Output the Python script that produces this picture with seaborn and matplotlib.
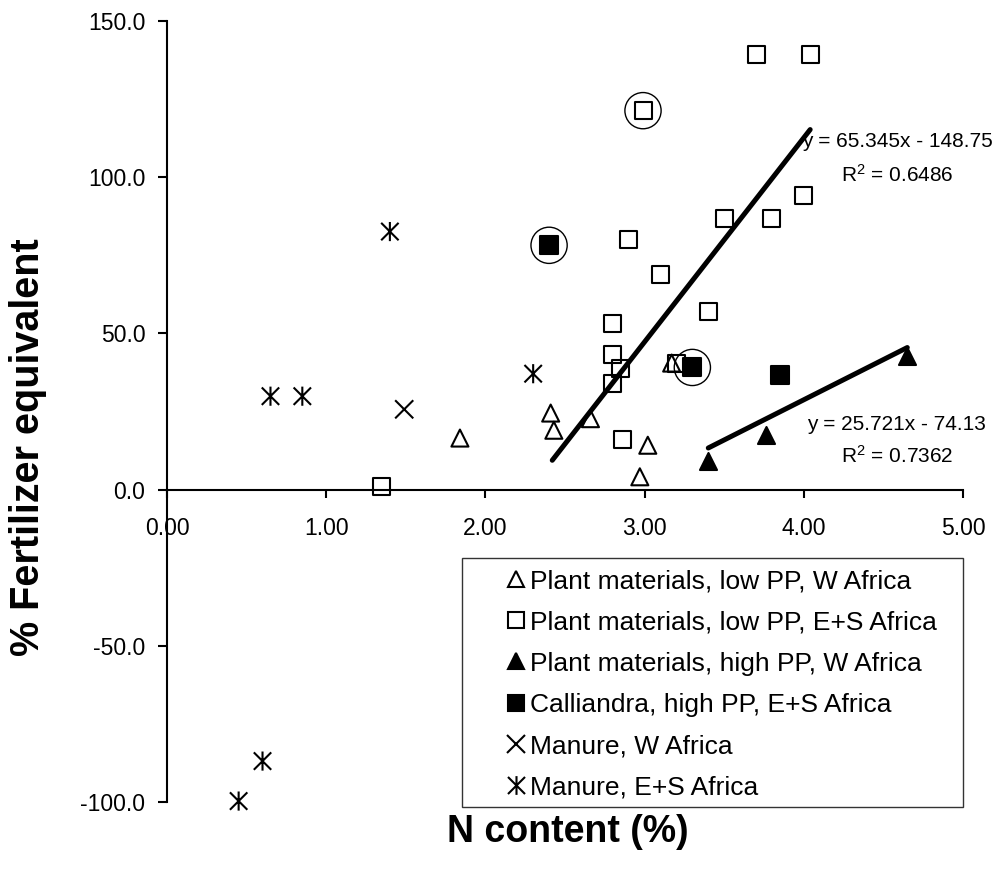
import numpy as np
import pandas as pd
import matplotlib
matplotlib.use("Agg")
import matplotlib.pyplot as plt
import seaborn as sns
from matplotlib.path import Path
from matplotlib.lines import Line2D
from matplotlib.patches import Rectangle

# ---------------- data ----------------
tri_open_x = [1.84, 2.41, 2.43, 2.66, 2.97, 3.02, 3.17]
tri_open_y = [16.5, 24.5, 19.0, 22.7, 4.1, 14.2, 40.5]

sq_open_x = [1.35, 2.80, 2.80, 2.85, 2.80, 2.86, 2.90, 2.99, 3.10, 3.20,
             3.40, 3.50, 3.70, 3.80, 4.00, 4.04]
sq_open_y = [1.0, 53.1, 43.2, 38.9, 34.1, 16.0, 80.0, 121.3, 69.0, 40.5,
             57.0, 86.9, 139.3, 86.9, 94.0, 139.3]

tri_fill_x = [3.40, 3.76, 4.65]
tri_fill_y = [9.1, 17.6, 42.9]

calli_x = [2.40, 3.30, 3.85]
calli_y = [78.2, 39.1, 36.8]

manure_w_x = [1.49]
manure_w_y = [25.7]

manure_es_x = [0.45, 0.60, 0.65, 0.85, 1.40, 2.30]
manure_es_y = [-99.7, -86.9, 29.9, 29.9, 82.6, 37.1]

circled_x = [2.99, 2.40, 3.30]
circled_y = [121.3, 78.2, 39.1]

# trend lines: slope, intercept, x-range
trend_slopes = [65.345, 25.721]
trend_intercepts = [-148.75, -74.13]
trend_xmin = [2.42, 3.40]
trend_xmax = [4.04, 4.65]
trend_eq_labels = ["y = 65.345x - 148.75", "y = 25.721x - 74.13"]
trend_r2_labels = [r"R$^2$ = 0.6486", r"R$^2$ = 0.7362"]
trend_label_x = [4.59, 4.585]
trend_label_y = [111.4, 20.8]
trend_r2_y = [100.8, 10.7]

legend_labels = ["Plant materials, low PP, W Africa",
                 "Plant materials, low PP, E+S Africa",
                 "Plant materials, high PP, W Africa",
                 "Calliandra, high PP, E+S Africa",
                 "Manure, W Africa",
                 "Manure, E+S Africa"]

xticks = [0, 1, 2, 3, 4, 5]
xtick_labels = ["0.00", "1.00", "2.00", "3.00", "4.00", "5.00"]
yticks = [-100, -50, 0, 50, 100, 150]
ytick_labels = ["-100.0", "-50.0", "0.0", "50.0", "100.0", "150.0"]

# ---------------- style ----------------
sns.set_style("white")
plt.rcParams['font.family'] = ['Liberation Sans', 'DejaVu Sans']
plt.rcParams['axes.unicode_minus'] = False
plt.rcParams['mathtext.fontset'] = 'custom'
plt.rcParams['mathtext.rm'] = 'Liberation Sans'
plt.rcParams['mathtext.it'] = 'Liberation Sans:italic'
plt.rcParams['text.color'] = 'black'
plt.rcParams['axes.labelcolor'] = 'black'
plt.rcParams['xtick.color'] = 'black'
plt.rcParams['ytick.color'] = 'black'

asterisk = Path([(-0.5, -0.5), (0.5, 0.5), (-0.5, 0.5), (0.5, -0.5), (0, -0.55), (0, 0.55)],
                [Path.MOVETO, Path.LINETO, Path.MOVETO, Path.LINETO, Path.MOVETO, Path.LINETO])

fig = plt.figure(figsize=(10.02, 8.73), dpi=100)
ax = fig.add_axes([167 / 1002, 1 - 802 / 873, 796 / 1002, 781 / 873])

groups = [
    (tri_open_x, tri_open_y, '^', True, 150, 1.5),
    (sq_open_x, sq_open_y, 's', True, 150, 1.5),
    (tri_fill_x, tri_fill_y, '^', False, 150, 1.5),
    (calli_x, calli_y, 's', False, 150, 1.5),
    (manure_w_x, manure_w_y, 'x', True, 170, 1.5),
    (manure_es_x, manure_es_y, asterisk, True, 190, 1.5),
]

# circles around highlighted points
sns.scatterplot(x=circled_x, y=circled_y, marker='o', s=680, color='black',
                edgecolor='black', linewidth=1.0, ax=ax, legend=False, zorder=2)
ax.collections[-1].set_facecolor('none')
ax.collections[-1].set_clip_on(False)

for gx, gy, m, hollow, s, lw in groups:
    sns.scatterplot(x=gx, y=gy, marker=m, s=s, color='black', edgecolor='black',
                    linewidth=lw, ax=ax, legend=False, zorder=3)
    coll = ax.collections[-1]
    if hollow:
        coll.set_facecolor('none')
    coll.set_edgecolor('black')
    coll.set_linewidth(lw)
    coll.set_clip_on(False)

# trend lines
for sl, ic, x0, x1 in zip(trend_slopes, trend_intercepts, trend_xmin, trend_xmax):
    xs = np.array([x0, x1])
    sns.lineplot(x=xs, y=sl * xs + ic, color='black', linewidth=3.6, ax=ax,
                 solid_capstyle='round', zorder=4)

for eq, r2, tx, ty, ry in zip(trend_eq_labels, trend_r2_labels, trend_label_x,
                              trend_label_y, trend_r2_y):
    ax.text(tx, ty, eq, ha='center', va='center', fontsize=15, color='black', zorder=5)
    ax.text(tx, ry, r2, ha='center', va='center', fontsize=15, color='black', zorder=5)

# axes
ax.set_xlim(0, 5)
ax.set_ylim(-100, 150)
ax.spines['top'].set_visible(False)
ax.spines['right'].set_visible(False)
ax.spines['bottom'].set_position(('data', 0))
for sp in ['left', 'bottom']:
    ax.spines[sp].set_linewidth(1.5)
    ax.spines[sp].set_color('black')
ax.set_xticks(xticks)
ax.set_xticklabels(xtick_labels)
ax.set_yticks(yticks)
ax.set_yticklabels(ytick_labels)
ax.tick_params(axis='x', direction='out', length=6, width=1.5, pad=14,
               labelsize=16.5, bottom=True, colors='black')
ax.tick_params(axis='y', direction='out', length=6.5, width=1.5, pad=9,
               labelsize=16.5, left=True, colors='black')

ax.set_xlabel('N content (%)', fontsize=27, fontweight='bold', color='black')
ax.set_ylabel('% Fertilizer equivalent', fontsize=28.5, fontweight='bold', color='black')
ax.xaxis.label.set_va('center')
ax.yaxis.label.set_va('center')
ax.xaxis.set_label_coords((568 - 167) / 796, (802 - 832) / 781)
ax.yaxis.set_label_coords((28 - 167) / 796, (802 - 447) / 781)

# legend
handles = [
    Line2D([], [], marker='^', linestyle='none', markerfacecolor='none',
           markeredgecolor='black', markersize=12, markeredgewidth=1.5),
    Line2D([], [], marker='s', linestyle='none', markerfacecolor='none',
           markeredgecolor='black', markersize=12, markeredgewidth=1.5),
    Line2D([], [], marker='^', linestyle='none', markerfacecolor='black',
           markeredgecolor='black', markersize=12, markeredgewidth=1.5),
    Line2D([], [], marker='s', linestyle='none', markerfacecolor='black',
           markeredgecolor='black', markersize=12, markeredgewidth=1.5),
    Line2D([], [], marker='x', linestyle='none', color='black',
           markersize=13, markeredgewidth=1.5),
    Line2D([], [], marker=asterisk, linestyle='none', color='black',
           markersize=13.5, markeredgewidth=1.5),
]
leg = ax.legend(handles, legend_labels, loc='upper left',
                bbox_to_anchor=(505 / 1002, 1 - 569 / 873),
                bbox_transform=fig.transFigure, frameon=False, fontsize=19,
                handlelength=0.8, handletextpad=0.15, labelspacing=0.655,
                borderpad=0, borderaxespad=0, labelcolor='black')
fig.patches.append(Rectangle((462 / 1002, 1 - 807 / 873), (963 - 462) / 1002,
                             (807 - 558) / 873, transform=fig.transFigure,
                             fill=False, edgecolor='#333333', linewidth=1.0))

fig.savefig('out.png', dpi=100, facecolor='white')
